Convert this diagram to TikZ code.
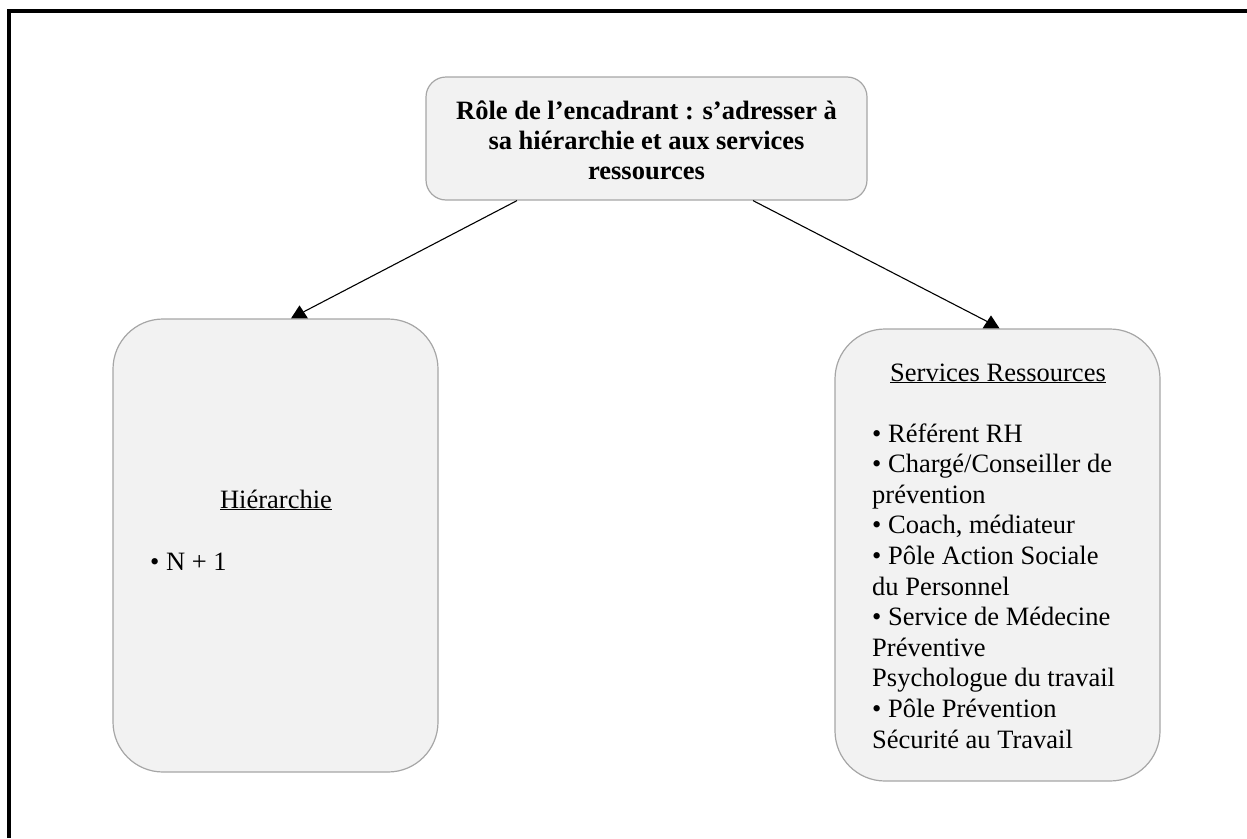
\documentclass[tikz,border=0pt]{standalone}
\usepackage{fontspec}
\setmainfont{Liberation Serif}
\begin{document}
\begin{tikzpicture}[x=1pt,y=-1pt,
    box/.style={draw=black!35,fill=black!5,line width=1.2pt},
    link/.style={draw=black,line width=1.1pt},
    txt/.style={inner sep=0pt,font=\fontsize{26.5}{30.6}\selectfont}]
  \useasboundingbox (0,0) rectangle (1247,838);
  \draw[line width=4pt] (9,838) -- (9,11) -- (1247,11);
  \node[box,rounded corners=20pt,minimum width=441pt,minimum height=123pt]
    (role) at (646.5,138.5) {};
  \node[box,rounded corners=50pt,minimum width=325pt,minimum height=453pt]
    (hier) at (275.5,545.5) {};
  \node[box,rounded corners=50pt,minimum width=325pt,minimum height=452pt]
    (serv) at (997.5,555) {};
  \node[txt,anchor=base,align=center,font=\fontsize{26.5}{30}\selectfont\bfseries]
    (roletext) at (646.5,179.3) {Rôle de l’encadrant : s’adresser à\\
      sa hiérarchie et aux services\\ ressources};
  \node[txt,anchor=base] (hiertitle) at (276,508) {\underline{Hiérarchie}};
  \node[txt,anchor=base west] (hierlist) at (150,570) {• N + 1};
  \node[txt,anchor=base] (servtitle) at (998,381) {\underline{Services Ressources}};
  \node[txt,anchor=base west,align=left] (servlist) at (872,748) {• Référent RH\\
    • Chargé/Conseiller de\\ prévention\\ • Coach, médiateur\\
    • Pôle Action Sociale\\ du Personnel\\ • Service de Médecine\\
    Préventive\\ Psychologue du travail\\ • Pôle Prévention\\
    Sécurité au Travail};
  \coordinate (hiertip) at ([xshift=24pt]hier.north);
  \coordinate (servtip) at ([xshift=-6.5pt]serv.north);
  \draw[link] ([xshift=-129.5pt]role.south) -- ([shift={(4,-6.5)}]hiertip);
  \draw[link] ([xshift=106.5pt]role.south) -- ([shift={(-4,-7)}]servtip);
  \fill (hiertip) ++(-8.5,0) -- ++(17,0) -- ++(-8.5,-13) -- cycle;
  \fill (servtip) ++(-8.5,0) -- ++(17,0) -- ++(-8.5,-13) -- cycle;
\end{tikzpicture}
\end{document}
